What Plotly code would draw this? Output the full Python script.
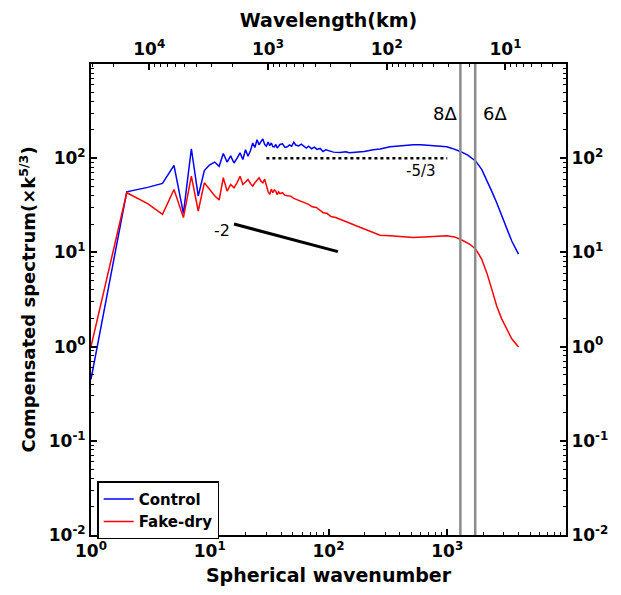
import numpy as np
import plotly.graph_objects as go

# ---------------- data ----------------
k_control = [1, 2, 3, 4, 5, 6, 7, 8, 9, 10, 11, 12, 13, 14, 15, 16, 17, 18, 19, 20,
             21, 22, 23, 24, 25, 26, 27, 28, 29, 30, 31, 32, 33, 34, 35, 36, 37, 38,
             39, 41, 43, 45, 47, 49, 51, 53, 56, 59, 62, 65, 68, 72, 76, 80, 85, 90,
             95, 100, 110, 125, 140, 150, 173, 200, 238, 272, 330, 400, 518, 600, 700,
             800, 989, 1100, 1290, 1500, 1738, 1950, 2150, 2367, 2608, 2875, 3162,
             3493, 3981]
v_control = [0.45, 44, 49, 54, 84, 26, 126, 39.5, 74, 85, 91, 82, 112, 91, 106, 89, 100,
             114, 97, 123, 105, 120, 145, 130, 157, 139, 150, 160, 140, 134, 148, 136,
             145, 133, 132, 140, 128, 136, 140, 142, 130, 132, 138, 134, 148, 138, 135,
             141, 133, 128, 134, 126, 131, 124, 127, 118, 123, 120, 116, 115, 117, 114,
             115, 118, 123, 125, 132, 136, 139, 139, 137, 135, 132, 127, 118, 107, 93,
             76, 59, 44.7, 33.6, 24.3, 17.6, 13.2, 9.6]

k_fakedry = [1, 2, 3, 4, 5, 6, 7, 8, 9, 10, 11, 12, 13, 14, 15, 16, 17, 18, 19, 20,
             21, 22, 23, 24, 25, 26, 27, 28, 29, 30, 31, 32, 33, 34, 35, 36, 37, 38,
             39, 41, 43, 45, 48, 51, 55, 59, 63, 68, 73, 79, 85, 90, 97, 105, 115,
             125, 138, 150, 173, 200, 238, 272, 330, 400, 518, 700, 989, 1150, 1290,
             1553, 1738, 1950, 2150, 2367, 2608, 2875, 3162, 3493, 3981]
v_fakedry = [1.0, 43, 33, 25.4, 46.5, 23.4, 64.4, 27.5, 54.8, 46, 40, 36, 62, 44.7,
             52.6, 48.5, 55, 64.4, 52.6, 56, 59.4, 54, 50.5, 55, 58, 62, 57, 54.8, 60,
             50, 44, 41.2, 47, 43, 46, 44.7, 41, 44, 42, 43, 40.5, 40, 39.6, 37.5, 36,
             35, 33.5, 32.4, 30.5, 30, 28, 26.4, 26, 24, 23.5, 22.4, 21.2, 20.5, 19.1,
             17.8, 16.2, 15.2, 15, 14.7, 14.4, 14.7, 15, 14.6, 13.8, 12.2, 10.8, 8.5,
             6.1, 4.1, 2.7, 1.97, 1.54, 1.21, 0.99]

slope53_k = [30, 1000]
slope53_v = [100, 100]
slope2_k = [16, 120]
slope2_v = [20, 10.2]

delta_k = [1290, 1720]
delta_labels = ["8Δ", "6Δ"]

bottom_ticks = [1, 10, 100, 1000]
bottom_text = ["10<sup>0</sup>", "10<sup>1</sup>", "10<sup>2</sup>", "10<sup>3</sup>"]
y_ticks = [0.01, 0.1, 1, 10, 100]
y_text = ["10<sup>-2</sup>", "10<sup>-1</sup>", "10<sup>0</sup>", "10<sup>1</sup>", "10<sup>2</sup>"]
wl_ticks = [1e4, 1e3, 1e2, 1e1]
wl_text = ["10<sup>4</sup>", "10<sup>3</sup>", "10<sup>2</sup>", "10<sup>1</sup>"]
WL_CONST = 10 ** 4.49   # k * wavelength(km) used for top axis

# ---------------- figure ----------------
FONT = "DejaVu Sans"
fig = go.Figure()

fig.add_trace(go.Scatter(x=k_control, y=v_control, mode="lines", name="Control",
                         line=dict(color="#0000ff", width=1.5)))
fig.add_trace(go.Scatter(x=k_fakedry, y=v_fakedry, mode="lines", name="Fake-dry",
                         line=dict(color="#ff0000", width=1.5)))
fig.add_trace(go.Scatter(x=slope53_k, y=slope53_v, mode="lines", showlegend=False,
                         line=dict(color="black", width=2.5, dash="dot"), hoverinfo="skip"))
fig.add_trace(go.Scatter(x=slope2_k, y=slope2_v, mode="lines", showlegend=False,
                         line=dict(color="black", width=3), hoverinfo="skip"))
for dk in delta_k:
    fig.add_trace(go.Scatter(x=[dk, dk], y=[0.01, 1000], mode="lines", showlegend=False,
                             line=dict(color="#8c8c8c", width=2.5), hoverinfo="skip"))
# dummy trace for top/right axes
fig.add_trace(go.Scatter(x=[1], y=[1], xaxis="x2", yaxis="y2", mode="lines",
                         showlegend=False, hoverinfo="skip"))

def minor_vals(lo, hi):
    out = []
    for n in range(lo, hi + 1):
        for m in range(2, 10):
            out.append(m * 10.0 ** n)
    return out

x_minor = [v for v in minor_vals(0, 3) if v <= 1e4]
y_minor = [v for v in minor_vals(-2, 2) if v <= 1e3]
wl_minor_k = [WL_CONST / v for v in minor_vals(0, 4) if 1 <= WL_CONST / v <= 1e4]
wl_major_k = [WL_CONST / v for v in wl_ticks]

tickfont = dict(family=FONT, size=17, color="black", weight="bold")
common = dict(type="log", showline=True, linewidth=2, linecolor="black", ticks="inside",
              ticklen=6, tickwidth=1.5, tickcolor="black", showgrid=False, zeroline=False,
              tickmode="array", tickfont=tickfont)
minor_common = dict(ticks="inside", ticklen=3, tickwidth=1.2, tickcolor="black",
                    showgrid=False, tickmode="array")

fig.update_layout(
    width=621, height=595,
    margin=dict(l=91, r=55, t=64, b=58),
    paper_bgcolor="white", plot_bgcolor="white",
    xaxis=dict(**common, range=[0, 4], tickvals=bottom_ticks, ticktext=bottom_text,
               minor=dict(**minor_common, tickvals=x_minor),
               title=dict(text="Spherical wavenumber", standoff=8,
                          font=dict(family=FONT, size=19, color="black", weight="bold"))),
    xaxis2=dict(**common, range=[0, 4], overlaying="x", side="top", anchor="y",
                tickvals=wl_major_k, ticktext=wl_text,
                minor=dict(**minor_common, tickvals=wl_minor_k),
                title=dict(text="Wavelength(km)", standoff=4,
                           font=dict(family=FONT, size=19, color="black", weight="bold"))),
    yaxis=dict(**common, range=[-2, 3], tickvals=y_ticks, ticktext=y_text,
               minor=dict(**minor_common, tickvals=y_minor),
               title=dict(text="Compensated spectrum(×k<sup>5/3</sup>)", standoff=8,
                          font=dict(family=FONT, size=18, color="black", weight="bold"))),
    yaxis2=dict(**common, range=[-2, 3], overlaying="y", side="right", anchor="x",
                tickvals=y_ticks, ticktext=y_text,
                minor=dict(**minor_common, tickvals=y_minor)),
    legend=dict(x=0.013, y=0.114, xanchor="left", yanchor="top",
                bordercolor="black", borderwidth=1.5, bgcolor="white",
                font=dict(family=FONT, size=15, color="black", weight="bold"),
                tracegroupgap=0, itemwidth=30),
    showlegend=True,
)

annots = [
    (np.log10(963), np.log10(301), delta_labels[0], 18),
    (np.log10(2523), np.log10(301), delta_labels[1], 18),
    (np.log10(604), np.log10(72.8), "-5/3", 15),
    (np.log10(12.7), np.log10(16.9), "-2", 16),
]
for ax, ay, txt, sz in annots:
    fig.add_annotation(x=ax, y=ay, xref="x", yref="y", text=txt, showarrow=False,
                       font=dict(family=FONT, size=sz, color="black"))

fig.write_html("out.html")
